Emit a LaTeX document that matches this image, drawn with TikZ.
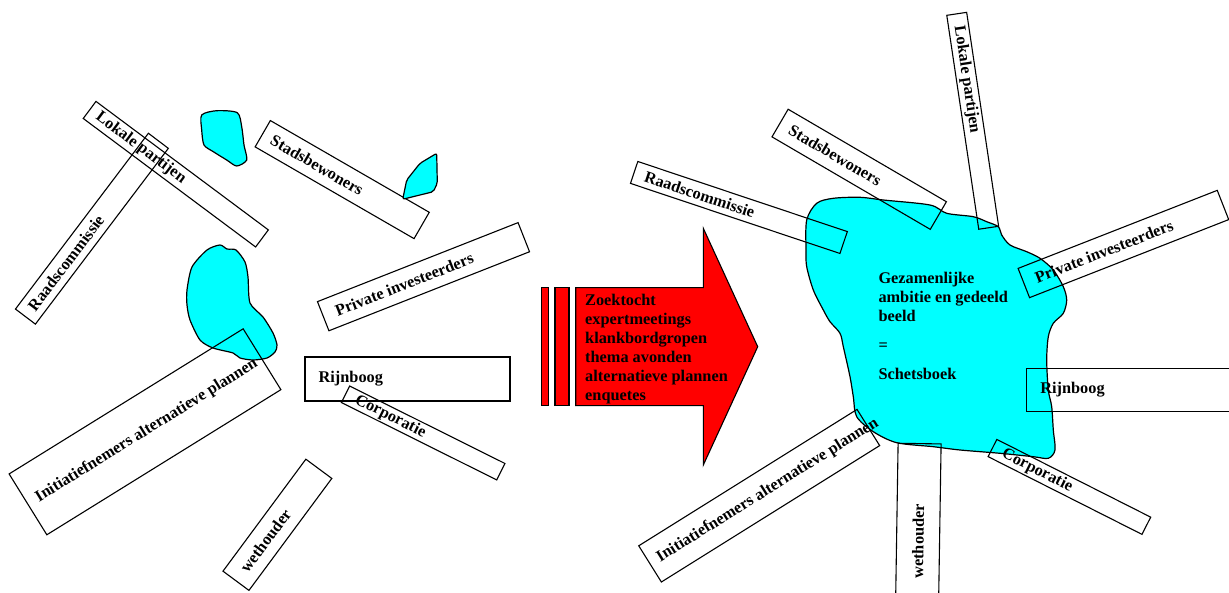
\documentclass[tikz,border=0pt]{standalone}
\usepackage{fontspec}
\setmainfont{Liberation Serif}
\usetikzlibrary{calc}

\definecolor{pool}{HTML}{00FFFF}
\definecolor{arrowred}{HTML}{FF0000}

\tikzset{
  actor/.style={draw=black, line width=1.1pt, rectangle, inner sep=0pt},
  actorlabel/.style={anchor=west, inner ysep=0pt, font=\bfseries\fontsize{16.3}{19}\selectfont},
  pooled/.style={draw=black, line width=1.2pt, fill=pool},
  bigarrow/.style={draw=black, line width=1.1pt, fill=arrowred},
  bodytext/.style={anchor=north west, inner sep=0pt, align=left, font=\bfseries\fontsize{16.3}{19}\selectfont},
}

% actor box: name, x, y, length, thickness, angle, text padding, text
\newcommand\actorbox[8]{%
  \node[actor, minimum width=#4pt, minimum height=#5pt, rotate=#6] (#1) at (#2,#3) {};
  \node[actorlabel, rotate=#6, inner xsep=#7pt] (#1-t) at (#1.west) {#8};
}

\begin{document}
\begin{tikzpicture}[x=1pt, y=-1pt]
\path[fill=white, use as bounding box] (0,0) rectangle (1229,593);

% ---------- before: scattered stakeholders ----------
\draw[pooled] plot[smooth cycle, tension=0.45] coordinates {
  (201.7,115) (216.7,110.7) (237.3,112.7) (241.7,126.7) (244,145) (246.7,160)
  (236.7,166) (226.7,160) (213.3,151.7) (204,145) (201.7,130)};

\draw[pooled] plot[smooth cycle, tension=0.45] coordinates {
  (220,245) (227,249) (236,250) (245,262) (248,277) (250,303) (263,317)
  (273,333) (277,345) (275,352) (267,358) (253,360) (240,358) (233,353)
  (213,348) (200,340) (190,320) (187,305) (187,290) (192,267) (207,250)};

\actorbox{lLok}{175.8}{174.2}{215}{21.3}{-36.7}{10}{Lokale partijen}
\actorbox{lRaad}{91.9}{228.7}{220.4}{25}{52.9}{10}{Raadscommissie}
\actorbox{lStad}{342.2}{179.6}{183.5}{30.4}{-30}{11}{Stadsbewoners}
\actorbox{lPriv}{423.5}{276.7}{215.6}{31.3}{21.5}{14}{Private investeerders}
\actorbox{lRijn}{407.5}{379}{205}{44}{0}{14}{Rijnboog}
\actorbox{lCorp}{423.2}{433}{173.5}{18.4}{-26.5}{12}{Corporatie}
\actorbox{lInit}{145}{431.8}{275.4}{71.6}{31.8}{11}{Initiatiefnemers alternatieve plannen}
\actorbox{lWet}{277.4}{524.8}{139.3}{32.3}{53.5}{13}{wethouder}

\draw[pooled, rounded corners=2pt] (402.7,199.3) -- (406.7,180) -- (420,163.3)
  -- (436.7,153.3) -- (437.3,183.3) -- (433.3,191.7) -- (420,195) -- cycle;

% ---------- the process arrow ----------
\draw[bigarrow] (541.7,287.7) rectangle (548.3,405.7);
\draw[bigarrow] (555,287.7) rectangle (569,405.7);
\draw[bigarrow] (575.7,287.7) -- (703.3,287.7) -- (703.3,228.3) -- (757.7,346.7)
  -- (703.3,465) -- (703.3,405.7) -- (575.7,405.7) -- cycle;
\node[bodytext] (steps) at (585,294.3) {Zoektocht\\expertmeetings\\klankbordgropen\\thema avonden\\alternatieve plannen\\enquetes};

% ---------- after: shared ambition ----------
\draw[pooled] plot[smooth cycle, tension=0.5] coordinates {
  (806.7,220) (816.7,203.3) (833.3,198.3) (860,197.3) (883.3,200) (930,205)
  (946.7,213.3) (973.3,216.7) (986.7,221.7) (998.3,226.7) (1001.7,235)
  (1010,245) (1026.7,251.7) (1040,258.3) (1053.3,270) (1063.3,286.7)
  (1066.7,300) (1063.3,313.3) (1053.3,323.3) (1048.3,336.7) (1046.7,360)
  (1048.3,390) (1051.7,406.7) (1053.3,430) (1055,450) (1048.3,458.3)
  (1033.3,456.7) (1000,453.3) (960,450) (933.3,446.7) (896.7,442.7)
  (873.3,431.7) (856.7,416.7) (853.3,396.7) (850,376.7) (843.3,346.7)
  (840,333.3) (830,321.7) (823.3,310) (813.3,290) (806.7,266.7) (806,250)};

\node[bodytext] (vision) at (878.3,272) {Gezamenlijke\\ambitie en gedeeld\\beeld\\[10pt]=\\[9.5pt]Schetsboek};

\actorbox{rRaad}{738.9}{207.5}{220.9}{23.1}{-18.5}{12}{Raadscommissie}
\actorbox{rStad}{859.2}{169.3}{183.3}{32}{-30.3}{12}{Stadsbewoners}
\actorbox{rLok}{972.7}{120.8}{216.3}{20.1}{-81.5}{13}{Lokale partijen}
\actorbox{rPriv}{1123.4}{244}{213.9}{31.4}{21.4}{13}{Private investeerders}
\actorbox{rRijn}{1129.2}{390}{205}{43.4}{0}{14}{Rijnboog}
\actorbox{rCorp}{1069.4}{486.9}{172.4}{19.3}{-26.8}{12}{Corporatie}
\actorbox{rWet}{918.4}{519.8}{152.4}{43}{89.1}{18}{wethouder}
\actorbox{rInit}{759.2}{495.7}{257.4}{42.7}{32}{10}{Initiatiefnemers alternatieve plannen}

\end{tikzpicture}
\end{document}
